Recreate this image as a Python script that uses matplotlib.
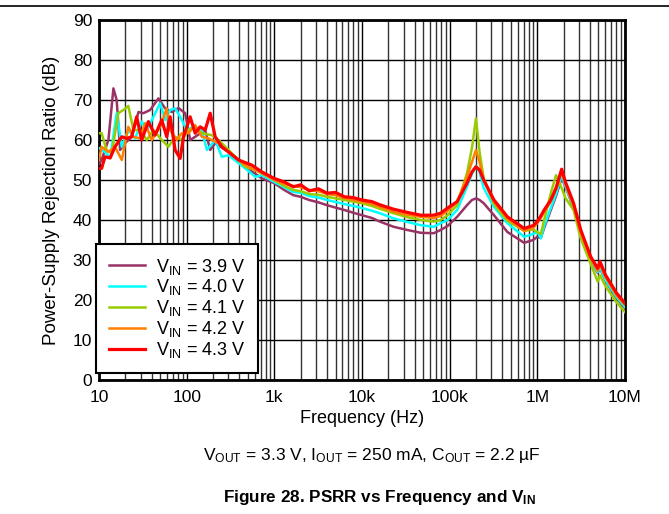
import numpy as np
import matplotlib.pyplot as plt
from matplotlib.ticker import FixedLocator, NullFormatter

plt.rcParams['font.family'] = ['Liberation Sans', 'DejaVu Sans']
plt.rcParams['mathtext.fontset'] = 'custom'
plt.rcParams['mathtext.rm'] = 'Liberation Sans'
plt.rcParams['mathtext.it'] = 'Liberation Sans:italic'
plt.rcParams['mathtext.bf'] = 'Liberation Sans:bold'

# ---------------- data ----------------
# low-frequency (noisy) part, each trace has its own sample points
f_lo_39 = [10, 10.7, 12.8, 14.6, 15.9, 17.4, 19.8, 23.6, 28.2, 32.1, 38.3, 47.6, 56.8,
           67.7, 80.7, 96.1, 109.6, 125, 162.7, 185.6, 211.7, 300.8, 466, 723]
db_lo_39 = [54, 55, 60, 72.9, 70, 57.5, 59.2, 60.8, 67, 66.7, 67.5, 70.4, 67.9,
            67, 68, 66.7, 60, 60.8, 62.5, 57.5, 59.2, 57, 53.3, 50.4]

f_lo_40 = [10, 11.7, 13.4, 15.9, 18.2, 21.6, 25.8, 30.7, 35.1, 41.8, 49.8, 56.8, 64.8,
           73.9, 84.3, 100.4, 119.7, 149, 170, 211.7, 252, 300.8, 466, 607, 723]
db_lo_40 = [58, 57, 55.5, 66.7, 58.3, 62.5, 60.4, 64.6, 62.5, 65.8, 69.2, 65, 67.5,
            67.9, 65.8, 62.5, 63.3, 62.5, 57.5, 60, 55.8, 56.2, 52.9, 50.8, 51.2]

f_lo_41 = [10, 10.7, 12.2, 14.0, 16.6, 19.0, 21.6, 24.7, 29.4, 35.1, 41.8, 52, 62,
           73.9, 88.1, 105, 125, 149, 194, 231, 300.8, 466, 607]
db_lo_41 = [61.7, 61.7, 57.5, 56.7, 66.7, 67.5, 68.5, 62.5, 62.5, 60, 62.5, 60, 58.3,
            60.8, 60, 62.5, 63.3, 61.7, 61.2, 60, 57.5, 53.3, 52.5]

f_lo_42 = [10, 10.7, 12.8, 15.2, 18.2, 21.6, 24.7, 29.4, 33.6, 40, 49.8, 59.3, 64.8,
           77.2, 88.1, 105, 125, 149, 177.7, 231, 300.8, 466, 723]
db_lo_42 = [55, 58.3, 57, 58.3, 55, 63.3, 60.8, 60.4, 64.2, 60, 63.3, 67.9, 62.5,
            60, 61.7, 61.7, 63.7, 60.8, 60.4, 59.2, 57, 53.7, 51.7]

f_lo_43 = [10, 10.7, 11.7, 13.4, 15.2, 18.2, 20.7, 23.6, 26.9, 30.7, 36.6, 43.6, 52,
           59.3, 64.8, 73.9, 84.3, 92, 109.6, 125, 142.6, 162.7, 185.6, 211.7, 252,
           300.8, 391, 556, 723]
db_lo_43 = [52.9, 52.9, 55.8, 55.5, 58.3, 60.8, 60.4, 60.8, 65.8, 60, 64.6, 61.2, 65,
            60.8, 65.8, 57.5, 55.4, 60.8, 65.8, 61.7, 63.3, 62.5, 66.7, 60.8, 58.3,
            57, 55, 53.7, 52]

# from 1 kHz upward all traces share the same sample points
f_hi = [1e3, 1.3e3, 1.65e3, 2e3, 2.5e3, 3.2e3, 4e3, 5e3, 6.3e3, 8e3, 10e3, 13e3, 16e3,
        23e3, 33e3, 47e3, 66e3, 79e3, 95e3, 122e3, 158e3, 180e3, 200e3, 220e3, 245e3,
        321e3, 457e3, 708e3, 900e3, 1e6, 1.1e6, 1.2e6, 1.43e6, 1.64e6, 1.9e6, 2.1e6,
        2.6e6, 3.14e6, 4.08e6, 4.9e6, 5.2e6, 6e6, 8e6, 10e6]
db_hi_39 = [49.2, 47.5, 46.2, 45.8, 45.0, 44.4, 43.7, 43.1, 42.5, 41.8, 41.2, 40.5, 39.6,
            38.3, 37.5, 36.8, 36.7, 37.5, 38.5, 40.8, 43.7, 45.0, 45.4, 45.0, 44.2,
            41.2, 37.0, 34.3, 35.0, 35.8, 35.5, 38.0, 42.5, 46.0, 50.5, 48.3,
            43.0, 36.3, 29.8, 26.8, 28.0, 24.8, 20.5, 18.0]
db_hi_40 = [49.5, 48.2, 47.0, 46.8, 46.0, 45.6, 45.0, 44.5, 44.0, 43.5, 43.0, 42.3, 41.7,
            40.4, 39.5, 38.7, 38.3, 39.2, 40.0, 42.5, 48.3, 51.5, 53.5, 52.0, 48.0,
            43.3, 39.2, 35.8, 36.5, 37.1, 35.4, 38.5, 43.0, 46.5, 51.2, 48.5,
            43.3, 36.5, 30.0, 27.0, 28.2, 25.0, 20.8, 18.3]
db_hi_41 = [50.0, 48.5, 47.5, 47.2, 46.5, 46.3, 45.8, 45.4, 45.0, 44.6, 44.2, 43.5, 42.8,
            41.7, 40.7, 40.0, 39.6, 40.0, 41.2, 43.7, 51.7, 58.0, 65.4, 57.0, 50.5,
            44.0, 39.8, 37.3, 37.6, 37.0, 36.5, 40.0, 46.7, 51.2, 48.0, 45.5,
            42.5, 35.4, 29.0, 24.6, 26.2, 23.5, 19.5, 17.0]
db_hi_42 = [50.0, 49.0, 48.5, 48.2, 47.5, 47.2, 46.5, 46.2, 45.5, 45.0, 44.6, 44.0, 43.3,
            42.0, 41.3, 40.8, 40.5, 41.0, 42.3, 44.5, 50.8, 54.5, 57.5, 54.5, 50.0,
            44.5, 40.3, 37.3, 38.0, 39.2, 40.5, 42.0, 44.6, 47.8, 52.0, 49.0,
            43.5, 36.8, 30.3, 27.3, 28.8, 25.8, 21.2, 18.8]
db_hi_43 = [50.4, 49.5, 48.3, 48.8, 47.3, 47.8, 46.7, 46.9, 45.8, 45.6, 45.0, 44.6, 43.8,
            42.7, 41.9, 41.2, 41.2, 41.7, 43.0, 44.6, 49.2, 52.0, 53.3, 52.5, 50.0,
            45.0, 40.8, 37.9, 38.6, 39.6, 41.0, 42.5, 45.0, 48.0, 52.7, 49.5,
            44.2, 37.5, 30.8, 27.9, 29.6, 26.3, 21.8, 19.2]

labels = ['3.9', '4.0', '4.1', '4.2', '4.3']
colors = ['#993366', '#00FFFF', '#99CC00', '#FF8000', '#FF0000']
widths = [1.8, 1.8, 1.8, 1.8, 2.3]

traces = [(f_lo_39, db_lo_39, db_hi_39),
          (f_lo_40, db_lo_40, db_hi_40),
          (f_lo_41, db_lo_41, db_hi_41),
          (f_lo_42, db_lo_42, db_hi_42),
          (f_lo_43, db_lo_43, db_hi_43)]

x_ticks = [10, 100, 1e3, 1e4, 1e5, 1e6, 1e7]
x_ticklabels = ['10', '100', '1k', '10k', '100k', '1M', '10M']
y_ticks = list(range(0, 91, 10))

# ---------------- figure ----------------
fig = plt.figure(figsize=(6.69, 5.14), dpi=100)
ax = fig.add_axes([0.148, 0.2607, 0.786, 0.7004])

for (f_lo, d_lo, d_hi), lab, c, lw in zip(traces, labels, colors, widths):
    f = np.concatenate([f_lo, f_hi])
    d = np.concatenate([d_lo, d_hi])
    ax.plot(f, d, color=c, lw=lw, label=r'V$_{\mathrm{IN}}$ = ' + lab + ' V', zorder=3)

ax.set_xscale('log')
ax.set_xlim(10, 1e7)
ax.set_ylim(0, 90)
ax.xaxis.set_major_locator(FixedLocator(x_ticks))
ax.set_xticklabels(x_ticklabels)
minor = [m * 10 ** e for e in range(1, 7) for m in range(2, 10)]
ax.xaxis.set_minor_locator(FixedLocator(minor))
ax.xaxis.set_minor_formatter(NullFormatter())
ax.set_yticks(y_ticks)
ax.grid(True, which='major', color='black', lw=1.0)
ax.grid(True, which='minor', axis='x', color='#333333', lw=1.0)
ax.tick_params(which='both', length=0, labelsize=12.5)
ax.tick_params(axis='x', pad=7)
ax.tick_params(axis='y', pad=5)
for s in ax.spines.values():
    s.set_linewidth(2)
    s.set_color('black')

ax.set_xlabel('Frequency (Hz)', fontsize=13, labelpad=4)
ax.set_ylabel('Power-Supply Rejection Ratio (dB)', fontsize=13.5, labelpad=9)

leg = ax.legend(loc='lower left', bbox_to_anchor=(-0.005, 0.02), borderaxespad=0,
                fontsize=13, handlelength=2.0, labelspacing=0.05, framealpha=1,
                fancybox=False, edgecolor='black', borderpad=0.7, handletextpad=0.6)
leg.get_frame().set_linewidth(1.5)
leg.set_zorder(5)

fig.text(0.556, 0.113, r'V$_{\mathrm{OUT}}$ = 3.3 V, I$_{\mathrm{OUT}}$ = 250 mA, '
         r'C$_{\mathrm{OUT}}$ = 2.2 µF', ha='center', va='center', fontsize=12.5)
fig.text(0.568, 0.033, r'Figure 28. PSRR vs Frequency and V$_{\mathbf{IN}}$',
         ha='center', va='center', fontsize=12.3, fontweight='bold')

fig.add_artist(plt.Line2D([0, 1], [1 - 6 / 514, 1 - 6 / 514], color='black', lw=1.2))

fig.savefig('out.png', dpi=100)
